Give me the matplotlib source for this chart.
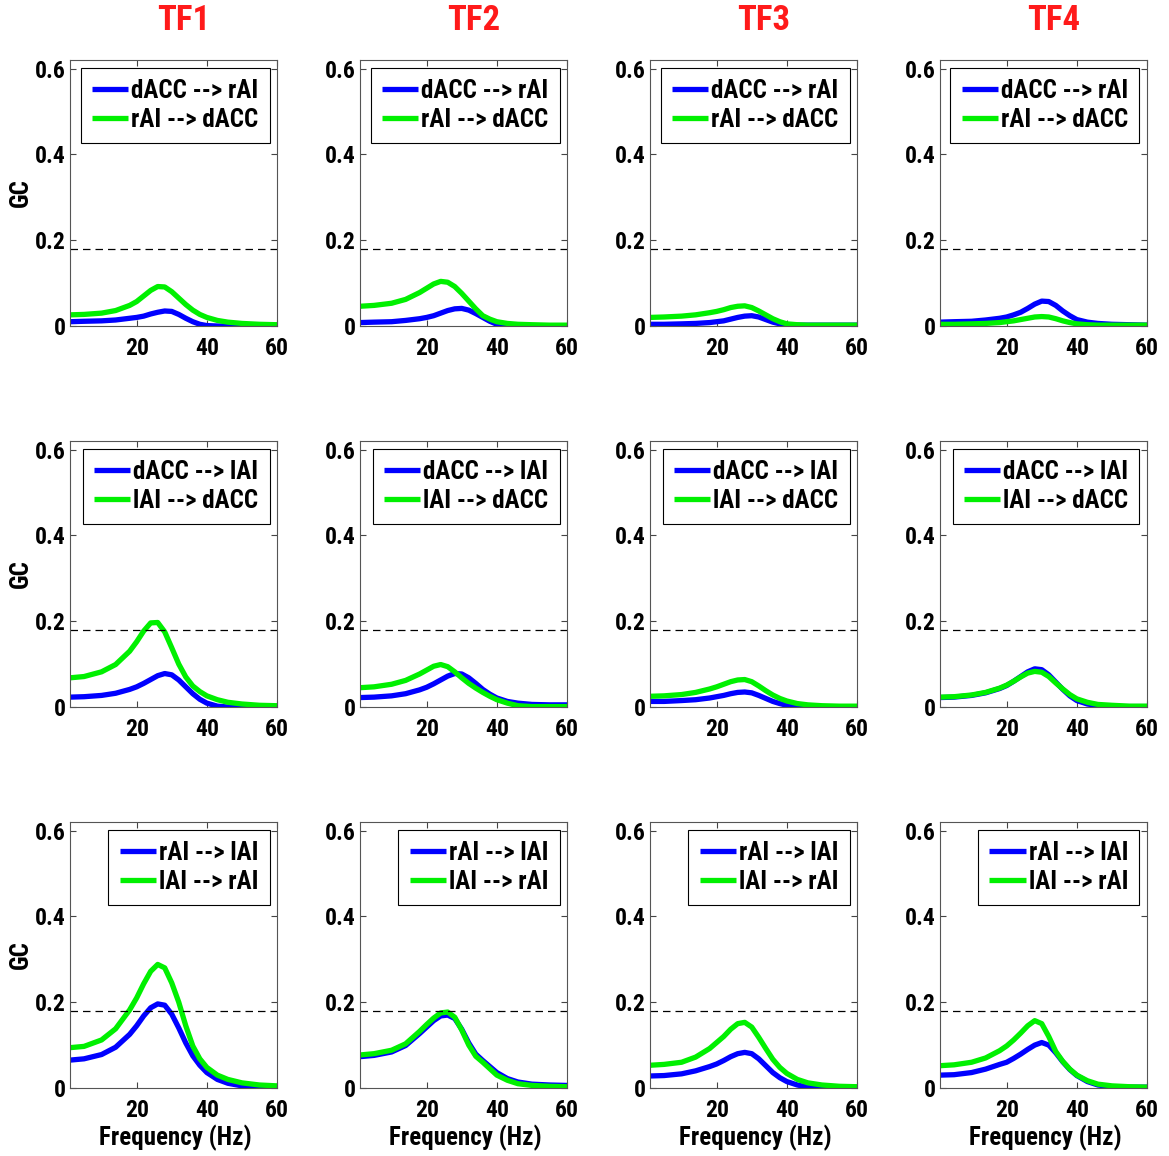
import matplotlib
matplotlib.use("Agg")
import matplotlib.pyplot as plt
from matplotlib import font_manager
import matplotlib.patheffects as pe


def _w(v):
    if isinstance(v, str):
        return font_manager.weight_dict.get(v, 400)
    return int(v)


_entries = [f for f in font_manager.fontManager.ttflist
            if ('Narrow' in f.name or 'Condensed' in f.name) and f.style == 'normal']
_bold = sorted({f.name for f in _entries if _w(f.weight) >= 600})
_any = sorted({f.name for f in _entries})
FAKE_BOLD = False
if _bold:
    pref = [n for n in _bold if 'Liberation' in n] + [n for n in _bold if 'Roboto' in n] + _bold
    main_font = pref[0]
    NARROW = True
elif _any:
    main_font = _any[0]
    NARROW = True
    FAKE_BOLD = True
else:
    main_font = 'Liberation Sans'
    NARROW = False
plt.rcParams['font.family'] = [main_font, 'DejaVu Sans']
plt.rcParams['font.weight'] = 'bold'

freq = [1, 5, 10, 14, 18, 20, 22, 24, 26, 28, 30, 32, 34, 36, 38, 40, 43, 46, 50, 55, 60]

titles = ["TF1", "TF2", "TF3", "TF4"]
threshold = 0.18

legend_labels = [
    ("dACC --> rAI", "rAI --> dACC"),
    ("dACC --> lAI", "lAI --> dACC"),
    ("rAI --> lAI", "lAI --> rAI"),
]

# Row 1: dACC -> rAI (blue), rAI -> dACC (green)
r1_tf1_blue = [0.010, 0.011, 0.012, 0.014, 0.018, 0.020, 0.023, 0.028, 0.032, 0.035, 0.034, 0.027, 0.018, 0.010, 0.004, 0.001, 0.0, 0.0, 0.0, 0.0, 0.0]
r1_tf1_green = [0.026, 0.027, 0.030, 0.036, 0.048, 0.057, 0.070, 0.083, 0.092, 0.091, 0.080, 0.065, 0.050, 0.037, 0.027, 0.020, 0.013, 0.009, 0.006, 0.004, 0.003]
r1_tf2_blue = [0.008, 0.009, 0.010, 0.013, 0.017, 0.020, 0.024, 0.030, 0.036, 0.040, 0.041, 0.037, 0.029, 0.020, 0.011, 0.004, 0.001, 0.0, 0.0, 0.0, 0.0]
r1_tf2_green = [0.046, 0.048, 0.053, 0.062, 0.078, 0.088, 0.098, 0.104, 0.102, 0.092, 0.076, 0.058, 0.040, 0.024, 0.016, 0.010, 0.006, 0.004, 0.003, 0.002, 0.002]
r1_tf3_blue = [0.004, 0.004, 0.005, 0.006, 0.008, 0.010, 0.012, 0.016, 0.020, 0.023, 0.024, 0.021, 0.015, 0.009, 0.005, 0.003, 0.002, 0.002, 0.002, 0.002, 0.002]
r1_tf3_green = [0.020, 0.021, 0.023, 0.026, 0.031, 0.034, 0.038, 0.043, 0.046, 0.047, 0.043, 0.035, 0.026, 0.017, 0.010, 0.005, 0.003, 0.002, 0.002, 0.002, 0.002]
r1_tf4_blue = [0.009, 0.010, 0.011, 0.014, 0.018, 0.021, 0.026, 0.032, 0.041, 0.051, 0.058, 0.057, 0.048, 0.035, 0.024, 0.015, 0.009, 0.006, 0.004, 0.003, 0.002]
r1_tf4_green = [0.004, 0.004, 0.005, 0.006, 0.008, 0.010, 0.012, 0.015, 0.018, 0.021, 0.022, 0.021, 0.017, 0.012, 0.008, 0.005, 0.003, 0.002, 0.002, 0.002, 0.002]

# Row 2: dACC -> lAI (blue), lAI -> dACC (green)
r2_tf1_blue = [0.023, 0.024, 0.027, 0.032, 0.041, 0.047, 0.055, 0.064, 0.073, 0.078, 0.075, 0.063, 0.047, 0.031, 0.018, 0.009, 0.002, 0.0, 0.0, 0.0, 0.0]
r2_tf1_green = [0.068, 0.071, 0.082, 0.099, 0.130, 0.152, 0.177, 0.196, 0.197, 0.175, 0.138, 0.100, 0.070, 0.049, 0.036, 0.026, 0.017, 0.011, 0.007, 0.004, 0.003]
r2_tf2_blue = [0.022, 0.023, 0.026, 0.031, 0.040, 0.046, 0.054, 0.063, 0.072, 0.078, 0.077, 0.068, 0.055, 0.041, 0.030, 0.021, 0.013, 0.009, 0.006, 0.005, 0.005]
r2_tf2_green = [0.045, 0.047, 0.053, 0.062, 0.077, 0.086, 0.095, 0.099, 0.094, 0.082, 0.068, 0.055, 0.044, 0.034, 0.025, 0.017, 0.009, 0.003, 0.001, 0.001, 0.001]
r2_tf3_blue = [0.013, 0.013, 0.015, 0.017, 0.021, 0.024, 0.027, 0.031, 0.034, 0.035, 0.033, 0.027, 0.020, 0.013, 0.008, 0.004, 0.001, 0.0, 0.0, 0.0, 0.0]
r2_tf3_green = [0.025, 0.026, 0.029, 0.034, 0.042, 0.047, 0.053, 0.059, 0.063, 0.064, 0.059, 0.049, 0.038, 0.028, 0.020, 0.014, 0.008, 0.005, 0.003, 0.002, 0.002]
r2_tf4_blue = [0.022, 0.023, 0.027, 0.033, 0.043, 0.050, 0.060, 0.071, 0.082, 0.089, 0.087, 0.075, 0.058, 0.041, 0.026, 0.015, 0.007, 0.003, 0.001, 0.001, 0.001]
r2_tf4_green = [0.023, 0.024, 0.028, 0.034, 0.044, 0.051, 0.060, 0.070, 0.079, 0.083, 0.081, 0.071, 0.056, 0.042, 0.029, 0.019, 0.011, 0.006, 0.004, 0.002, 0.002]

# Row 3: rAI -> lAI (blue), lAI -> rAI (green)
r3_tf1_blue = [0.065, 0.068, 0.078, 0.095, 0.125, 0.145, 0.168, 0.187, 0.196, 0.193, 0.172, 0.140, 0.105, 0.075, 0.053, 0.036, 0.020, 0.011, 0.005, 0.003, 0.002]
r3_tf1_green = [0.094, 0.097, 0.112, 0.138, 0.182, 0.210, 0.243, 0.272, 0.288, 0.280, 0.245, 0.200, 0.145, 0.098, 0.068, 0.048, 0.030, 0.020, 0.012, 0.007, 0.005]
r3_tf2_blue = [0.073, 0.076, 0.084, 0.099, 0.127, 0.142, 0.157, 0.168, 0.170, 0.162, 0.137, 0.105, 0.079, 0.064, 0.050, 0.036, 0.022, 0.014, 0.009, 0.007, 0.006]
r3_tf2_green = [0.077, 0.080, 0.088, 0.103, 0.132, 0.148, 0.163, 0.175, 0.177, 0.165, 0.135, 0.100, 0.074, 0.060, 0.045, 0.030, 0.018, 0.010, 0.006, 0.004, 0.003]
r3_tf3_blue = [0.028, 0.029, 0.033, 0.040, 0.050, 0.056, 0.064, 0.073, 0.080, 0.083, 0.080, 0.068, 0.052, 0.036, 0.024, 0.015, 0.007, 0.002, 0.0, 0.0, 0.0]
r3_tf3_green = [0.053, 0.055, 0.060, 0.072, 0.092, 0.106, 0.120, 0.137, 0.150, 0.153, 0.142, 0.118, 0.092, 0.067, 0.048, 0.034, 0.020, 0.012, 0.007, 0.004, 0.003]
r3_tf4_blue = [0.030, 0.031, 0.036, 0.044, 0.055, 0.060, 0.069, 0.079, 0.090, 0.100, 0.106, 0.100, 0.082, 0.061, 0.043, 0.029, 0.015, 0.007, 0.003, 0.002, 0.002]
r3_tf4_green = [0.052, 0.054, 0.060, 0.070, 0.087, 0.098, 0.112, 0.128, 0.145, 0.157, 0.150, 0.120, 0.085, 0.062, 0.044, 0.030, 0.017, 0.009, 0.005, 0.003, 0.002]

blue_series = [
    [r1_tf1_blue, r1_tf2_blue, r1_tf3_blue, r1_tf4_blue],
    [r2_tf1_blue, r2_tf2_blue, r2_tf3_blue, r2_tf4_blue],
    [r3_tf1_blue, r3_tf2_blue, r3_tf3_blue, r3_tf4_blue],
]
green_series = [
    [r1_tf1_green, r1_tf2_green, r1_tf3_green, r1_tf4_green],
    [r2_tf1_green, r2_tf2_green, r2_tf3_green, r2_tf4_green],
    [r3_tf1_green, r3_tf2_green, r3_tf3_green, r3_tf4_green],
]

xticks = [20, 40, 60]
yticks = [0, 0.2, 0.4, 0.6]
ytick_labels = ["0", "0.2", "0.4", "0.6"]

if NARROW:
    FS_TICK, FS_LEG, FS_LAB, FS_TITLE = 17, 18, 18, 25
else:
    FS_TICK, FS_LEG, FS_LAB, FS_TITLE = 15, 14, 14, 20


def bolden(txt, color='black', w=1.1):
    if FAKE_BOLD:
        txt.set_path_effects([pe.withStroke(linewidth=w, foreground=color)])


W, H = 1169, 1156
fig = plt.figure(figsize=(W / 100, H / 100), dpi=100)

col_left = [70, 360, 650, 940]
row_top = [60, 441, 822]
aw, ah = 207, 266

BLUE = "#0000ff"
GREEN = "#00f000"

for r in range(3):
    for c in range(4):
        ax = fig.add_axes([col_left[c] / W, 1 - (row_top[r] + ah) / H, aw / W, ah / H])
        ax.plot(freq, blue_series[r][c], color=BLUE, lw=3.8, label=legend_labels[r][0],
                solid_capstyle='butt', solid_joinstyle='round')
        ax.plot(freq, green_series[r][c], color=GREEN, lw=3.8, label=legend_labels[r][1],
                solid_capstyle='butt', solid_joinstyle='round')
        ax.axhline(threshold, color="black", lw=0.9, ls=(0, (6, 4)))
        ax.set_xlim(1, 60)
        ax.set_ylim(0, 0.62)
        ax.set_xticks(xticks)
        ax.set_xticklabels([str(t) for t in xticks])
        ax.set_yticks(yticks)
        ax.set_yticklabels(ytick_labels)
        ax.tick_params(direction='in', top=True, right=True, length=4, width=0.8,
                       labelsize=FS_TICK, color="#444444")
        ax.tick_params(axis='x', pad=8)
        ax.tick_params(axis='y', pad=3)
        for lab in ax.get_xticklabels() + ax.get_yticklabels():
            lab.set_fontweight('bold')
            bolden(lab)
        for sp in ax.spines.values():
            sp.set_color("#555555")
            sp.set_linewidth(0.8)
        leg = ax.legend(loc='upper right', fontsize=FS_LEG, frameon=True, fancybox=False,
                        edgecolor='black', framealpha=1, handlelength=1.45,
                        borderpad=0.45, labelspacing=0.2, handletextpad=0.12,
                        borderaxespad=0.3)
        leg.get_frame().set_linewidth(0.8)
        for t in leg.get_texts():
            t.set_fontweight('bold')
            bolden(t)
        if c == 0:
            t = fig.text(21 / W, 1 - (row_top[r] + ah / 2) / H, "GC", rotation=90,
                         ha='center', va='center', fontsize=FS_LAB, fontweight='bold')
            bolden(t)
        if r == 2:
            t = fig.text((col_left[c] + aw / 2 + 2) / W, 1 - 1138 / H, "Frequency (Hz)",
                         ha='center', va='center', fontsize=FS_LAB, fontweight='bold')
            bolden(t)
        if r == 0:
            t = fig.text((col_left[c] + aw / 2 + 10) / W, 1 - 21 / H, titles[c],
                         ha='center', va='center', color="#ff1a1a", fontsize=FS_TITLE,
                         fontweight='bold')
            bolden(t, "#ff1a1a", 1.4)

fig.savefig("out.png", dpi=100)
